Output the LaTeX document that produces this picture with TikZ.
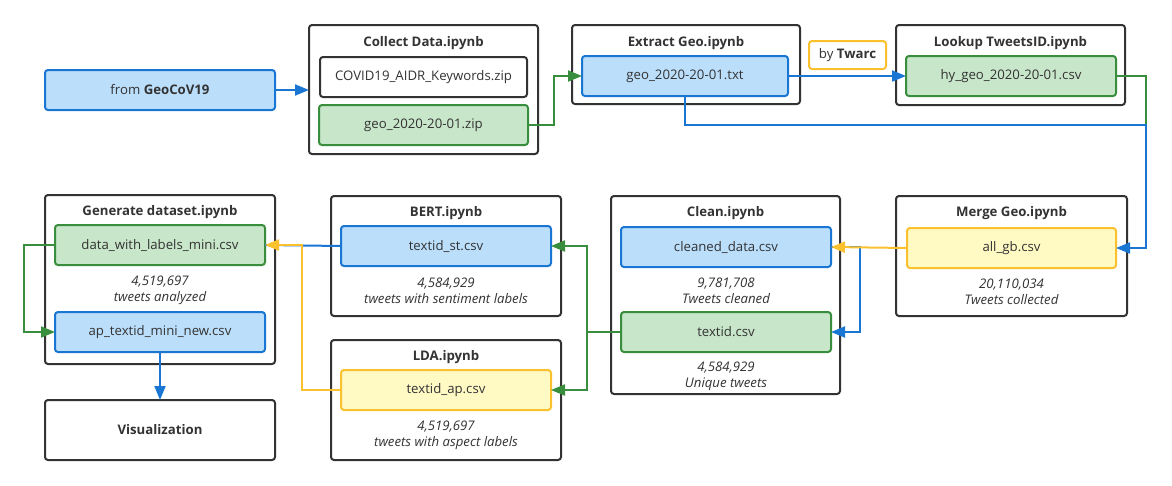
\documentclass[tikz,border=0pt]{standalone}
\usepackage{fontspec}
\setmainfont{Open Sans}
\usetikzlibrary{arrows.meta,calc}
\definecolor{bfill}{HTML}{BBDEFB}
\definecolor{bline}{HTML}{1976D2}
\definecolor{gfill}{HTML}{C8E6C9}
\definecolor{gline}{HTML}{388E3C}
\definecolor{yfill}{HTML}{FFF9C4}
\definecolor{yline}{HTML}{FBC02D}
\definecolor{cline}{HTML}{333333}
\definecolor{txt}{HTML}{333333}
\tikzset{
  base/.style={rectangle, rounded corners=3pt, line width=2pt, inner sep=0pt, outer sep=0pt, text=txt, font=\fontsize{13.2}{15}\selectfont},
  container/.style={base, draw=cline, fill=white},
  whitebox/.style={base, draw=cline, fill=white, minimum width=207pt, minimum height=40pt},
  bluebox/.style={base, draw=bline, fill=bfill, minimum width=210pt, minimum height=40pt},
  greenbox/.style={base, draw=gline, fill=gfill, minimum width=210pt, minimum height=40pt},
  yellowbox/.style={base, draw=yline, fill=yfill, minimum width=210pt, minimum height=40pt},
  title/.style={text=txt, font=\fontsize{13.2}{15}\selectfont\bfseries, inner sep=0pt},
  note/.style={text=txt, font=\fontsize{13.2}{16}\selectfont\itshape, align=center, inner sep=0pt},
  conn/.style={line width=2pt},
  tip/.style={-{Triangle[length=14pt,width=11pt]}},
  bconn/.style={conn, draw=bline},
  gconn/.style={conn, draw=gline},
  yconn/.style={conn, draw=yline},
}
\begin{document}
\begin{tikzpicture}[x=1pt,y=-1pt]
\useasboundingbox (0,0) rectangle (1172,485);
% ---------- top row ----------
\node[base, draw=bline, fill=bfill, minimum width=230pt, minimum height=40pt] (geo) at (160,90) {from \textbf{GeoCoV19}};

\node[container, minimum width=229pt, minimum height=129pt] (c1) at (423.5,89.5) {};
\node[title] (t1) at (423.5,43) {Collect Data.ipynb};
\node[whitebox] (covid) at (423.5,77) {COVID19\_AIDR\_Keywords.zip};
\node[greenbox, minimum width=209pt] (zip) at (423.5,125) {geo\_2020-20-01.zip};

\node[container, minimum width=228pt, minimum height=79pt] (c2) at (686,64.5) {};
\node[title] (t2) at (686,43) {Extract Geo.ipynb};
\node[bluebox, minimum width=206pt] (txtf) at (685,76) {geo\_2020-20-01.txt};

\node[base, draw=yline, fill=white, minimum width=77pt, minimum height=28pt] (twarc) at (847.5,55) {by \textbf{Twarc}};

\node[container, minimum width=229pt, minimum height=80pt] (c3) at (1010.5,65) {};
\node[title] (t3) at (1010.5,43) {Lookup TweetsID.ipynb};
\node[greenbox] (hy) at (1011,76) {hy\_geo\_2020-20-01.csv};

% ---------- bottom row ----------
\node[container, minimum width=231pt, minimum height=120pt] (c4) at (1011.5,256) {};
\node[title] (t4) at (1011.5,213) {Merge Geo.ipynb};
\node[yellowbox, minimum width=209pt] (allgb) at (1011.5,248) {all\_gb.csv};
\node[note] (n4) at (1011.5,292) {20,110,034\\Tweets collected};

\node[container, minimum width=229pt, minimum height=198pt] (c5) at (725.5,295) {};
\node[title] (t5) at (725.5,213) {Clean.ipynb};
\node[bluebox] (cleaned) at (726,247) {cleaned\_data.csv};
\node[note] (n5a) at (726,290.5) {9,781,708\\Tweets cleaned};
\node[greenbox] (textid) at (726,332) {textid.csv};
\node[note] (n5b) at (726,376.5) {4,584,929\\Unique tweets};

\node[container, minimum width=230pt, minimum height=120pt] (c6) at (446,256) {};
\node[title] (t6) at (446,213) {BERT.ipynb};
\node[bluebox] (st) at (446,246) {textid\_st.csv};
\node[note] (n6) at (446,291) {4,584,929\\tweets with sentiment labels};

\node[container, minimum width=230pt, minimum height=120pt] (c7) at (446,400) {};
\node[title] (t7) at (446,357) {LDA.ipynb};
\node[yellowbox] (ap) at (446,390) {textid\_ap.csv};
\node[note] (n7) at (446,435) {4,519,697\\tweets with aspect labels};

\node[container, minimum width=230pt, minimum height=169pt] (c8) at (160,279.5) {};
\node[title] (t8) at (160,212) {Generate dataset.ipynb};
\node[greenbox] (dwl) at (160,245) {data\_with\_labels\_mini.csv};
\node[note] (n8) at (160,290) {4,519,697\\tweets analyzed};
\node[bluebox] (apt) at (160,332) {ap\_textid\_mini\_new.csv};

\node[container, minimum width=230pt, minimum height=60pt, font=\fontsize{13.2}{15}\selectfont\bfseries] (vis) at (160,430) {Visualization};

% ---------- connectors ----------
\draw[bconn, tip] (geo.east) -- (c1.west |- geo.east);
\draw[gconn, tip] (zip.east) -- ++(26,0) |- (txtf.west);
\draw[bconn, tip] (txtf.east) -- (hy.west);
\coordinate (j1) at (1146,125);
\draw[gconn] (hy.east) -| (j1);
\draw[bconn, tip] (txtf.south) |- (j1) |- (allgb.east);

\draw[bconn, tip] (cleaned.east) -- ++(29,0) |- (textid.east);
\draw[yconn, tip] (allgb.west) -- (cleaned.east);

\coordinate (g1) at ($(textid.west)+(-34,0)$);
\draw[gconn] (textid.west) -- (g1);
\draw[gconn, tip] (g1) |- (st.east);
\draw[gconn, tip] (g1) |- (ap.east);

\draw[bconn] (st.west) -- (dwl.east);
\draw[yconn, tip] (ap.west) -- ++(-39,0) |- (dwl.east);

\draw[gconn, tip] (dwl.west) -- ++(-31,0) |- (apt.west);
\draw[bconn, tip] (apt.south) -- (vis.north);
\end{tikzpicture}
\end{document}
